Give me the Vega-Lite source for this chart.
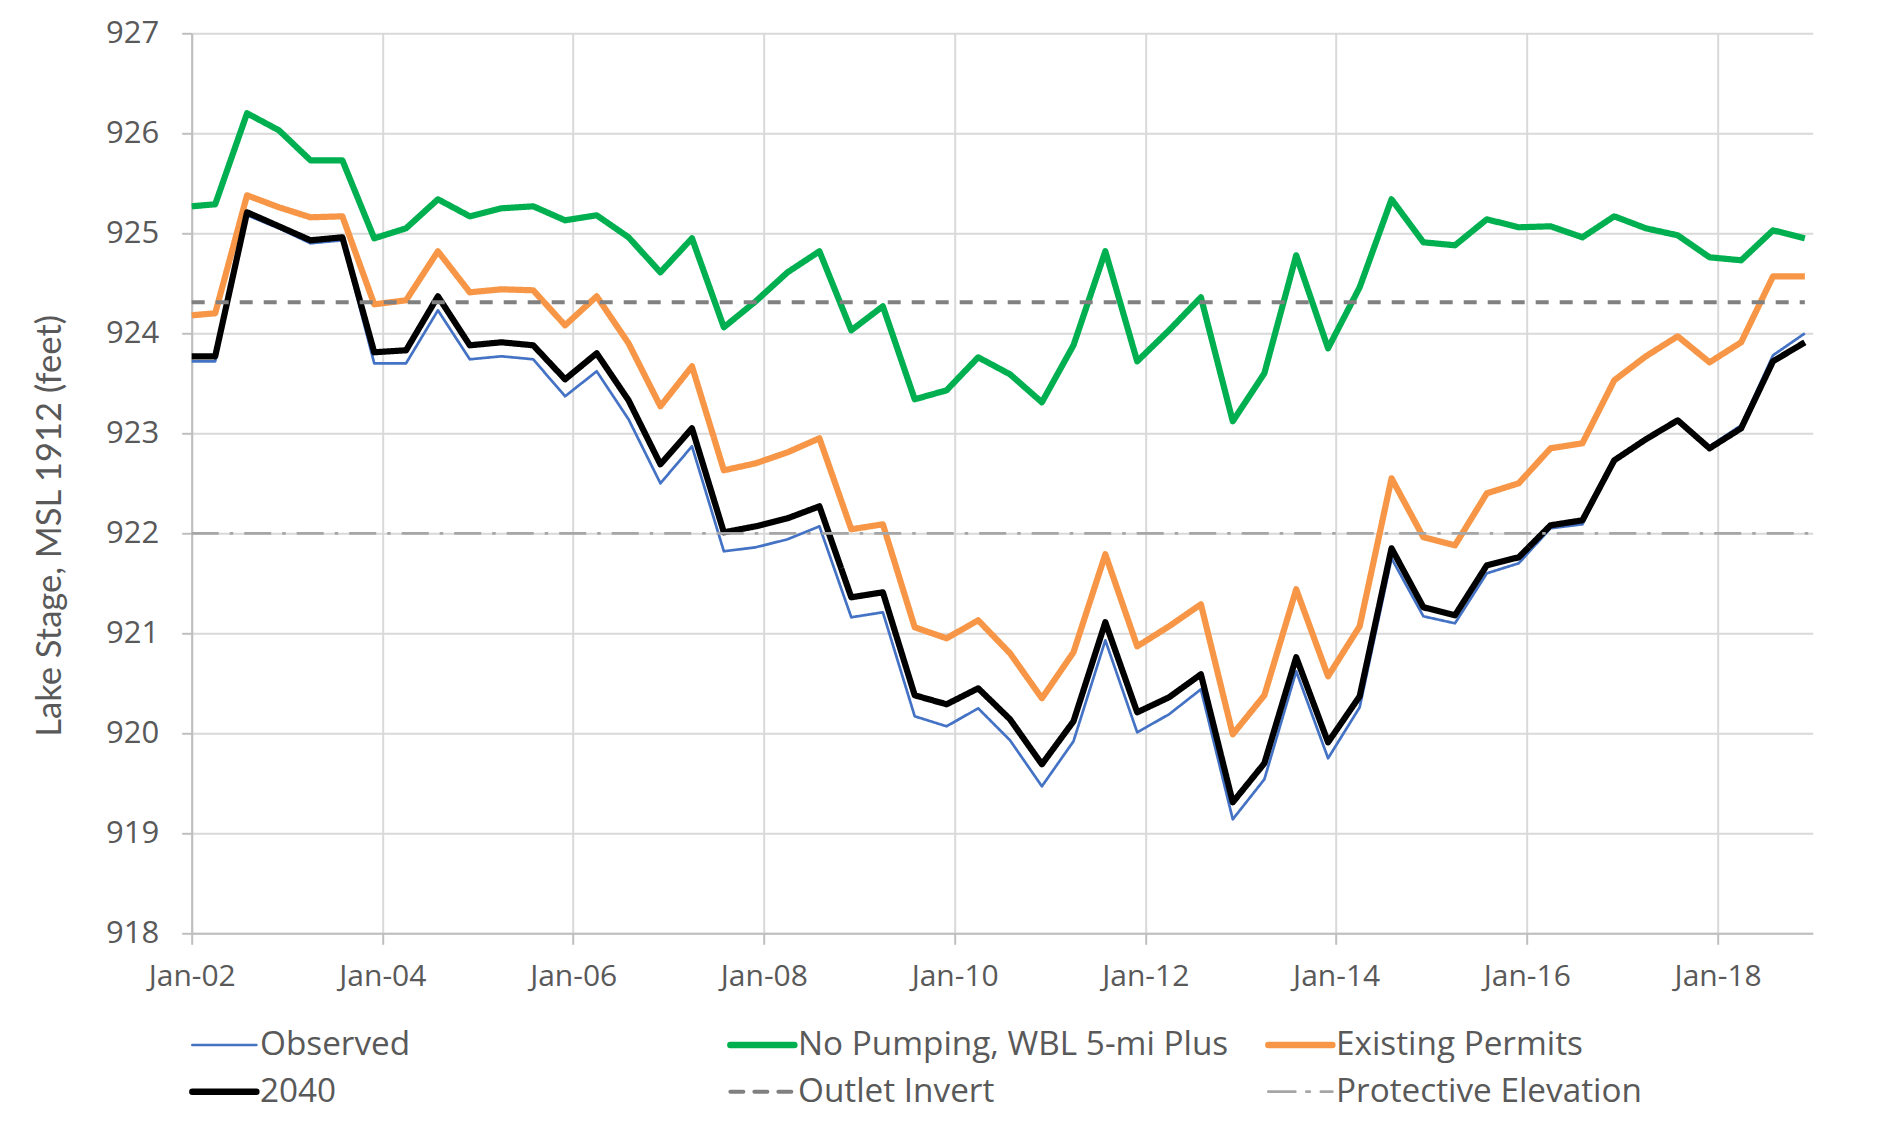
{
  "$schema": "https://vega.github.io/schema/vega-lite/v6.json",
  "width": 1621,
  "height": 900,
  "autosize": {"type": "none"},
  "padding": {"left": 191.7, "top": 33.3, "right": 64.3, "bottom": 191.7},
  "background": "white",
  "config": {
    "view": {"stroke": null},
    "font": "Open Sans",
    "legend": {
      "orient": "none",
      "legendX": 16,
      "legendY": 995,
      "direction": "horizontal",
      "columns": 3,
      "gridAlign": "all",
      "columnPadding": 26,
      "rowPadding": 12.7,
      "padding": 0,
      "symbolType": "stroke",
      "symbolSize": 4096,
      "labelFont": "Open Sans",
      "labelFontSize": 33.3,
      "labelColor": "#595959",
      "labelLimit": 800,
      "labelOffset": 19
    }
  },
  "datasets": {
    "series": [
      {"date": "2002-01-01", "Observed": 923.72, "No Pumping, WBL 5-mi Plus": 925.27, "Existing Permits": 924.18, "2040": 923.77},
      {"date": "2002-04-01", "Observed": 923.72, "No Pumping, WBL 5-mi Plus": 925.29, "Existing Permits": 924.20, "2040": 923.77},
      {"date": "2002-08-01", "Observed": 925.18, "No Pumping, WBL 5-mi Plus": 926.20, "Existing Permits": 925.38, "2040": 925.21},
      {"date": "2002-12-01", "Observed": 925.05, "No Pumping, WBL 5-mi Plus": 926.03, "Existing Permits": 925.26, "2040": 925.07},
      {"date": "2003-04-01", "Observed": 924.90, "No Pumping, WBL 5-mi Plus": 925.73, "Existing Permits": 925.16, "2040": 924.93},
      {"date": "2003-08-01", "Observed": 924.93, "No Pumping, WBL 5-mi Plus": 925.73, "Existing Permits": 925.17, "2040": 924.96},
      {"date": "2003-12-01", "Observed": 923.70, "No Pumping, WBL 5-mi Plus": 924.95, "Existing Permits": 924.29, "2040": 923.81},
      {"date": "2004-04-01", "Observed": 923.70, "No Pumping, WBL 5-mi Plus": 925.05, "Existing Permits": 924.33, "2040": 923.83},
      {"date": "2004-08-01", "Observed": 924.23, "No Pumping, WBL 5-mi Plus": 925.34, "Existing Permits": 924.82, "2040": 924.37},
      {"date": "2004-12-01", "Observed": 923.74, "No Pumping, WBL 5-mi Plus": 925.17, "Existing Permits": 924.41, "2040": 923.88},
      {"date": "2005-04-01", "Observed": 923.77, "No Pumping, WBL 5-mi Plus": 925.25, "Existing Permits": 924.44, "2040": 923.91},
      {"date": "2005-08-01", "Observed": 923.74, "No Pumping, WBL 5-mi Plus": 925.27, "Existing Permits": 924.43, "2040": 923.88},
      {"date": "2005-12-01", "Observed": 923.37, "No Pumping, WBL 5-mi Plus": 925.13, "Existing Permits": 924.08, "2040": 923.54},
      {"date": "2006-04-01", "Observed": 923.62, "No Pumping, WBL 5-mi Plus": 925.18, "Existing Permits": 924.37, "2040": 923.80},
      {"date": "2006-08-01", "Observed": 923.14, "No Pumping, WBL 5-mi Plus": 924.96, "Existing Permits": 923.90, "2040": 923.33},
      {"date": "2006-12-01", "Observed": 922.50, "No Pumping, WBL 5-mi Plus": 924.61, "Existing Permits": 923.27, "2040": 922.69},
      {"date": "2007-04-01", "Observed": 922.87, "No Pumping, WBL 5-mi Plus": 924.95, "Existing Permits": 923.67, "2040": 923.05},
      {"date": "2007-08-01", "Observed": 921.82, "No Pumping, WBL 5-mi Plus": 924.06, "Existing Permits": 922.63, "2040": 922.01},
      {"date": "2007-12-01", "Observed": 921.86, "No Pumping, WBL 5-mi Plus": 924.32, "Existing Permits": 922.70, "2040": 922.07},
      {"date": "2008-04-01", "Observed": 921.94, "No Pumping, WBL 5-mi Plus": 924.61, "Existing Permits": 922.81, "2040": 922.15},
      {"date": "2008-08-01", "Observed": 922.07, "No Pumping, WBL 5-mi Plus": 924.82, "Existing Permits": 922.95, "2040": 922.27},
      {"date": "2008-12-01", "Observed": 921.16, "No Pumping, WBL 5-mi Plus": 924.03, "Existing Permits": 922.04, "2040": 921.36},
      {"date": "2009-04-01", "Observed": 921.21, "No Pumping, WBL 5-mi Plus": 924.27, "Existing Permits": 922.09, "2040": 921.41},
      {"date": "2009-08-01", "Observed": 920.17, "No Pumping, WBL 5-mi Plus": 923.34, "Existing Permits": 921.06, "2040": 920.38},
      {"date": "2009-12-01", "Observed": 920.07, "No Pumping, WBL 5-mi Plus": 923.43, "Existing Permits": 920.95, "2040": 920.29},
      {"date": "2010-04-01", "Observed": 920.25, "No Pumping, WBL 5-mi Plus": 923.76, "Existing Permits": 921.13, "2040": 920.45},
      {"date": "2010-08-01", "Observed": 919.93, "No Pumping, WBL 5-mi Plus": 923.59, "Existing Permits": 920.80, "2040": 920.14},
      {"date": "2010-12-01", "Observed": 919.47, "No Pumping, WBL 5-mi Plus": 923.31, "Existing Permits": 920.35, "2040": 919.69},
      {"date": "2011-04-01", "Observed": 919.92, "No Pumping, WBL 5-mi Plus": 923.88, "Existing Permits": 920.81, "2040": 920.12},
      {"date": "2011-08-01", "Observed": 920.93, "No Pumping, WBL 5-mi Plus": 924.82, "Existing Permits": 921.79, "2040": 921.11},
      {"date": "2011-12-01", "Observed": 920.01, "No Pumping, WBL 5-mi Plus": 923.72, "Existing Permits": 920.87, "2040": 920.21},
      {"date": "2012-04-01", "Observed": 920.19, "No Pumping, WBL 5-mi Plus": 924.03, "Existing Permits": 921.07, "2040": 920.36},
      {"date": "2012-08-01", "Observed": 920.44, "No Pumping, WBL 5-mi Plus": 924.36, "Existing Permits": 921.29, "2040": 920.59},
      {"date": "2012-12-01", "Observed": 919.14, "No Pumping, WBL 5-mi Plus": 923.12, "Existing Permits": 919.99, "2040": 919.31},
      {"date": "2013-04-01", "Observed": 919.54, "No Pumping, WBL 5-mi Plus": 923.60, "Existing Permits": 920.38, "2040": 919.70},
      {"date": "2013-08-01", "Observed": 920.62, "No Pumping, WBL 5-mi Plus": 924.78, "Existing Permits": 921.44, "2040": 920.76},
      {"date": "2013-12-01", "Observed": 919.75, "No Pumping, WBL 5-mi Plus": 923.85, "Existing Permits": 920.57, "2040": 919.91},
      {"date": "2014-04-01", "Observed": 920.26, "No Pumping, WBL 5-mi Plus": 924.46, "Existing Permits": 921.07, "2040": 920.37},
      {"date": "2014-08-01", "Observed": 921.75, "No Pumping, WBL 5-mi Plus": 925.34, "Existing Permits": 922.55, "2040": 921.85},
      {"date": "2014-12-01", "Observed": 921.17, "No Pumping, WBL 5-mi Plus": 924.91, "Existing Permits": 921.96, "2040": 921.26},
      {"date": "2015-04-01", "Observed": 921.10, "No Pumping, WBL 5-mi Plus": 924.88, "Existing Permits": 921.88, "2040": 921.18},
      {"date": "2015-08-01", "Observed": 921.60, "No Pumping, WBL 5-mi Plus": 925.14, "Existing Permits": 922.40, "2040": 921.68},
      {"date": "2015-12-01", "Observed": 921.70, "No Pumping, WBL 5-mi Plus": 925.06, "Existing Permits": 922.50, "2040": 921.76},
      {"date": "2016-04-01", "Observed": 922.05, "No Pumping, WBL 5-mi Plus": 925.07, "Existing Permits": 922.85, "2040": 922.08},
      {"date": "2016-08-01", "Observed": 922.09, "No Pumping, WBL 5-mi Plus": 924.96, "Existing Permits": 922.90, "2040": 922.13},
      {"date": "2016-12-01", "Observed": 922.73, "No Pumping, WBL 5-mi Plus": 925.17, "Existing Permits": 923.53, "2040": 922.73},
      {"date": "2017-04-01", "Observed": 922.94, "No Pumping, WBL 5-mi Plus": 925.05, "Existing Permits": 923.77, "2040": 922.94},
      {"date": "2017-08-01", "Observed": 923.13, "No Pumping, WBL 5-mi Plus": 924.98, "Existing Permits": 923.97, "2040": 923.13},
      {"date": "2017-12-01", "Observed": 922.87, "No Pumping, WBL 5-mi Plus": 924.76, "Existing Permits": 923.71, "2040": 922.85},
      {"date": "2018-04-01", "Observed": 923.08, "No Pumping, WBL 5-mi Plus": 924.73, "Existing Permits": 923.91, "2040": 923.05},
      {"date": "2018-08-01", "Observed": 923.78, "No Pumping, WBL 5-mi Plus": 925.03, "Existing Permits": 924.57, "2040": 923.72},
      {"date": "2018-12-01", "Observed": 924.00, "No Pumping, WBL 5-mi Plus": 924.95, "Existing Permits": 924.57, "2040": 923.91}
    ],
    "refs": [
      {"date": "2002-01-01", "series": "Outlet Invert", "stage": 924.31},
      {"date": "2018-12-01", "series": "Outlet Invert", "stage": 924.31},
      {"date": "2002-01-01", "series": "Protective Elevation", "stage": 922.0},
      {"date": "2018-12-31", "series": "Protective Elevation", "stage": 922.0}
    ]
  },
  "encoding": {
    "x": {
      "field": "date",
      "type": "temporal",
      "scale": {"type": "utc", "domain": [{"year": 2002, "month": 1, "date": 1, "utc": true}, {"year": 2018, "month": 12, "date": 31, "utc": true}]},
      "axis": {
        "title": null,
        "values": [
          {"year": 2002, "month": 1, "date": 1, "utc": true},
          {"year": 2004, "month": 1, "date": 1, "utc": true},
          {"year": 2006, "month": 1, "date": 1, "utc": true},
          {"year": 2008, "month": 1, "date": 1, "utc": true},
          {"year": 2010, "month": 1, "date": 1, "utc": true},
          {"year": 2012, "month": 1, "date": 1, "utc": true},
          {"year": 2014, "month": 1, "date": 1, "utc": true},
          {"year": 2016, "month": 1, "date": 1, "utc": true},
          {"year": 2018, "month": 1, "date": 1, "utc": true}
        ],
        "format": "%b-%y",
        "labelFont": "Open Sans",
        "labelFontSize": 30,
        "labelColor": "#595959",
        "labelFlush": false,
        "labelOverlap": false,
        "labelPadding": 17,
        "grid": true,
        "gridColor": "#D9D9D9",
        "gridWidth": 2,
        "domainColor": "#BFBFBF",
        "domainWidth": 2,
        "tickColor": "#BFBFBF",
        "tickWidth": 2,
        "tickSize": 11
      }
    },
    "y": {
      "field": "stage",
      "type": "quantitative",
      "scale": {"domain": [918, 927], "nice": false, "zero": false},
      "axis": {
        "title": "Lake Stage, MSL 1912 (feet)",
        "values": [918, 919, 920, 921, 922, 923, 924, 925, 926, 927],
        "labelFont": "Open Sans",
        "labelFontSize": 31,
        "labelColor": "#595959",
        "labelPadding": 23,
        "grid": true,
        "gridColor": "#D9D9D9",
        "gridWidth": 2,
        "domainColor": "#BFBFBF",
        "domainWidth": 2,
        "tickColor": "#BFBFBF",
        "tickWidth": 2,
        "tickSize": 10,
        "titleFont": "Lato",
        "titleFontSize": 34.5,
        "titleFontWeight": "normal",
        "titleColor": "#595959",
        "titleX": -141,
        "titleY": 492,
        "titleAngle": -90,
        "titleAlign": "center",
        "titleBaseline": "middle"
      }
    },
    "color": {
      "field": "series",
      "type": "nominal",
      "scale": {
        "domain": ["Observed", "No Pumping, WBL 5-mi Plus", "Existing Permits", "2040", "Outlet Invert", "Protective Elevation"],
        "range": ["#4472C4", "#00B050", "#F79646", "#000000", "#808080", "#A6A6A6"]
      },
      "legend": {
        "title": null,
        "encode": {
          "symbols": {
            "update": {
              "strokeWidth": {"signal": "datum.value === 'Observed' || datum.value === 'Protective Elevation' ? 2.7 : (datum.value === 'Outlet Invert' ? 4 : 6.5)"},
              "strokeCap": {"value": "round"}
            }
          }
        }
      }
    },
    "strokeDash": {
      "field": "series",
      "type": "nominal",
      "scale": {
        "domain": ["Observed", "No Pumping, WBL 5-mi Plus", "Existing Permits", "2040", "Outlet Invert", "Protective Elevation"],
        "range": [[1, 0], [1, 0], [1, 0], [1, 0], [13, 11], [27, 11, 3.5, 11]]
      },
      "legend": {
        "title": null,
        "encode": {
          "symbols": {
            "update": {
              "strokeWidth": {"signal": "datum.value === 'Observed' || datum.value === 'Protective Elevation' ? 2.7 : (datum.value === 'Outlet Invert' ? 4 : 6.5)"}
            }
          }
        }
      }
    },
    "strokeWidth": {
      "condition": {"test": "datum.series === 'Observed' || datum.series === 'Protective Elevation'", "value": 2.7},
      "value": 6.2
    }
  },
  "layer": [
    {
      "data": {"name": "series"},
      "transform": [
        {"fold": ["Observed", "No Pumping, WBL 5-mi Plus", "Existing Permits", "2040"], "as": ["series", "stage"]}
      ],
      "mark": {"type": "line", "strokeJoin": "round"}
    },
    {
      "data": {"name": "refs"},
      "mark": {"type": "line"},
      "encoding": {
        "strokeWidth": {
          "condition": {"test": "datum.series === 'Outlet Invert'", "value": 4},
          "value": 2.7
        }
      }
    }
  ]
}
